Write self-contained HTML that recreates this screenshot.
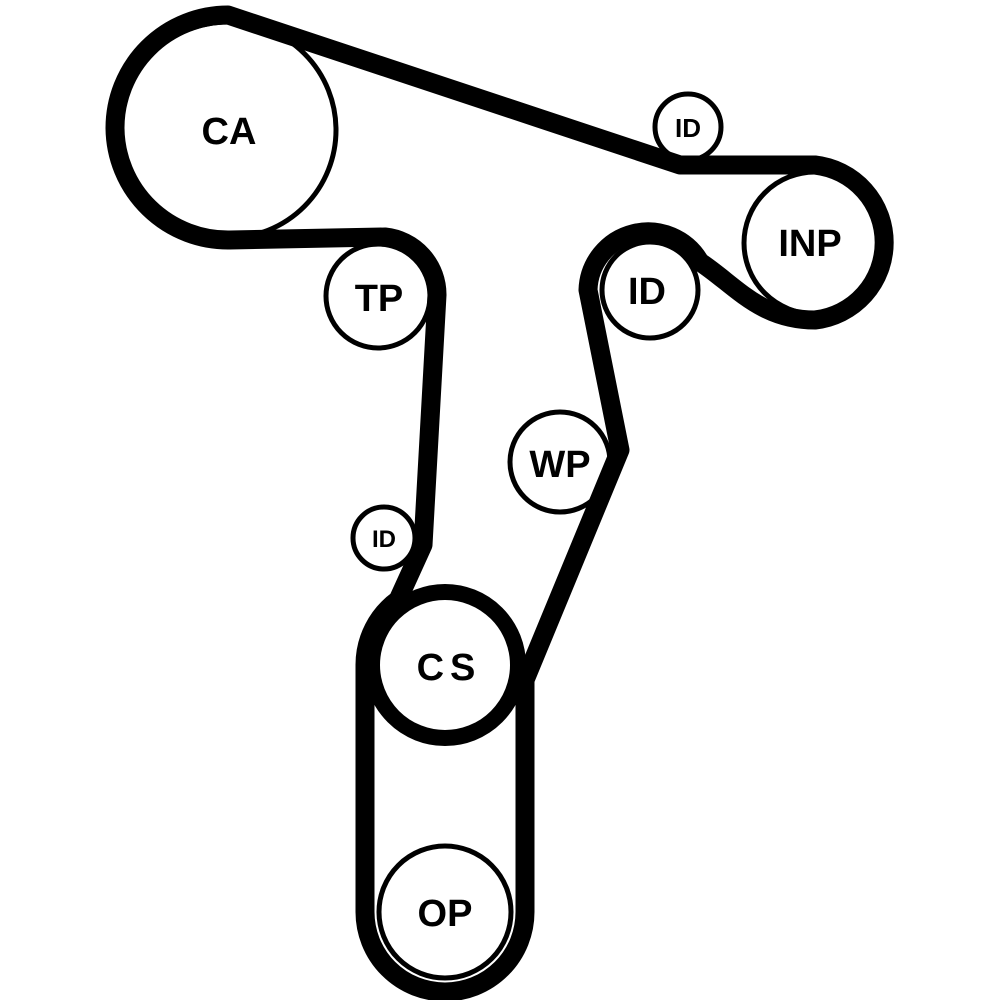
<!DOCTYPE html>
<html><head><style>
html,body{margin:0;padding:0;background:#fff;}
svg{display:block;}
text{font-family:"Liberation Sans",Arial,sans-serif;font-weight:bold;fill:#000;text-anchor:middle;}
</style></head><body>
<svg width="1000" height="1000" viewBox="0 0 1000 1000" xmlns="http://www.w3.org/2000/svg">
<g fill="#fff" stroke="#000" stroke-width="5">
<circle cx="228" cy="130" r="108"/>
<circle cx="688" cy="127" r="33"/>
<circle cx="815" cy="243" r="71"/>
<circle cx="650" cy="290" r="48"/>
<circle cx="378" cy="296" r="52"/>
<circle cx="560" cy="462" r="50"/>
<circle cx="384" cy="538" r="31"/>
<circle cx="445" cy="912" r="66"/>
</g>
<path fill="none" stroke="#000" stroke-width="19" stroke-linejoin="round" stroke-linecap="round"
d="M 228,15 L 680,165 L 815,165 A 78 78 0 0 1 815,320 C 760,320 735,285 700,262 A 60 60 0 0 0 588,290 L 620,450 L 525,680 L 525,912 A 80 80 0 0 1 365,912 L 365,665 A 80 80 0 0 1 398,600 L 423,545 L 437,295 A 58 58 0 0 0 385,237 L 230,240 A 113 113 0 0 1 115,128 A 113 113 0 0 1 228,15 Z"/>
<circle cx="445" cy="665" r="73" fill="#fff" stroke="#000" stroke-width="16"/>
<text x="229" y="144" font-size="38" font-weight="600">CA</text>
<text x="688" y="137" font-size="26" font-weight="normal">ID</text>
<text x="810" y="256" font-size="38">INP</text>
<text x="647" y="304" font-size="38">ID</text>
<text x="379" y="311" font-size="38">TP</text>
<text x="560" y="477" font-size="38">WP</text>
<text x="384" y="547" font-size="24" font-weight="normal">ID</text>
<text x="449" y="680" font-size="38" letter-spacing="6">CS</text>
<text x="445" y="926" font-size="38">OP</text>
</svg>
</body></html>
